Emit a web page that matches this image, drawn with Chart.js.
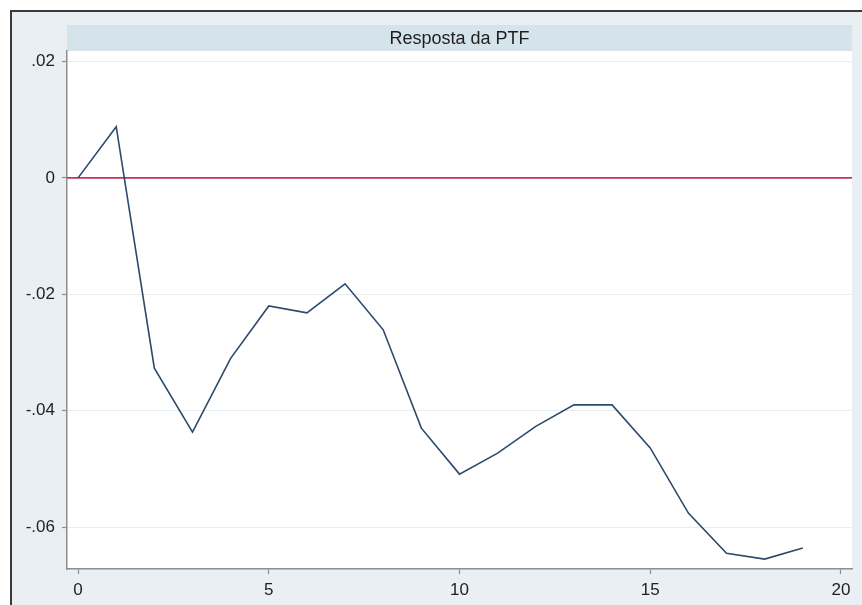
<!DOCTYPE html>
<html>
<head>
<meta charset="utf-8">
<title>Resposta da PTF</title>
<script src="https://cdn.jsdelivr.net/npm/chart.js@4/dist/chart.umd.min.js"></script>
<style>
  html, body { margin: 0; padding: 0; background: #fff; }
  #wrap {
    position: relative; width: 862px; height: 605px; overflow: hidden;
    background: #fff;
  }
  #frame {
    position: absolute; left: 10px; top: 10px; width: 900px; height: 700px;
    background: #e9eff2;
    border-left: 2px solid #3a3a3a; border-top: 2px solid #3a3a3a;
  }
  #chart { position: absolute; left: 0; top: 0; }
</style>
</head>
<body>
<div id="wrap">
  <div id="frame"></div>
  <canvas id="chart" width="862" height="605"></canvas>
</div>
<script>
  // impulse response over 20 periods
  const steps = [0, 1, 2, 3, 4, 5, 6, 7, 8, 9, 10, 11, 12, 13, 14, 15, 16, 17, 18, 19];
  const response = [0, 0.0088, -0.0327, -0.0437, -0.0310, -0.0220, -0.0232, -0.0182, -0.0261, -0.0430,
                    -0.0509, -0.0473, -0.0427, -0.0390, -0.0390, -0.0464, -0.0576, -0.0645, -0.0655, -0.0636];
  const yTicks = [0.02, 0, -0.02, -0.04, -0.06];
  const yTickLabels = ['.02', '0', '-.02', '-.04', '-.06'];
  const xTicks = [0, 5, 10, 15, 20];
  const zeroLine = 0;
  const panelTitle = 'Resposta da PTF';

  const FONT = '"Liberation Sans", Arial, sans-serif';

  // title strip above the plot region
  const titleBar = {
    id: 'titleBar',
    beforeDraw(chart) {
      const { ctx, chartArea: a } = chart;
      ctx.save();
      ctx.fillStyle = '#d5e3ea';
      ctx.fillRect(a.left, 25, a.right - a.left, a.top - 25);
      ctx.fillStyle = '#ffffff';
      ctx.fillRect(a.left, a.top, a.right - a.left, a.bottom - a.top);
      ctx.fillStyle = '#1e1e1e';
      ctx.font = '18px ' + FONT;
      ctx.textAlign = 'center';
      ctx.textBaseline = 'middle';
      ctx.fillText(panelTitle, (a.left + a.right) / 2, (25 + a.top) / 2 + 1);
      ctx.restore();
    },
  };

  // reference line at y = 0
  const refLine = {
    id: 'refLine',
    beforeDatasetsDraw(chart) {
      const { ctx, chartArea: a, scales } = chart;
      const y = scales.y.getPixelForValue(zeroLine);
      ctx.save();
      ctx.strokeStyle = '#c8305e';
      ctx.lineWidth = 1.6;
      ctx.beginPath();
      ctx.moveTo(a.left, y);
      ctx.lineTo(a.right, y);
      ctx.stroke();
      ctx.restore();
    },
  };

  new Chart(document.getElementById('chart'), {
    type: 'line',
    data: {
      datasets: [{
        label: panelTitle,
        data: steps.map((s, i) => ({ x: s, y: response[i] })),
        borderColor: '#2c4a6b',
        borderWidth: 1.6,
        pointRadius: 0,
        tension: 0,
        fill: false,
      }],
    },
    options: {
      responsive: false,
      animation: false,
      layout: { padding: { left: 0, right: 10, top: 51, bottom: 0 } },
      plugins: { legend: { display: false }, tooltip: { enabled: false } },
      scales: {
        x: {
          type: 'linear',
          min: -0.29,
          max: 20.29,
          afterBuildTicks: s => { s.ticks = xTicks.map(v => ({ value: v })); },
          afterFit: s => { s.height = 36; },
          border: { display: true, color: '#8e8e8e', width: 1.5 },
          grid: { drawOnChartArea: false, drawTicks: true, tickLength: 5, tickColor: '#8e8e8e', tickWidth: 1.2 },
          ticks: { color: '#222', font: { family: FONT, size: 17 }, padding: 6, maxRotation: 0 },
        },
        y: {
          type: 'linear',
          min: -0.0672,
          max: 0.0218,
          afterBuildTicks: s => { s.ticks = yTicks.map(v => ({ value: v })); },
          afterFit: s => { s.width = 67; },
          border: { display: true, color: '#8e8e8e', width: 1.5 },
          grid: { color: '#e8edf0', lineWidth: 1, drawTicks: true, tickLength: 5, tickColor: '#8e8e8e', tickWidth: 1.2 },
          ticks: {
            color: '#222', font: { family: FONT, size: 17 }, padding: 7,
            callback: v => yTickLabels[yTicks.indexOf(v)] ?? '',
          },
        },
      },
    },
    plugins: [titleBar, refLine],
  });
</script>
</body>
</html>
